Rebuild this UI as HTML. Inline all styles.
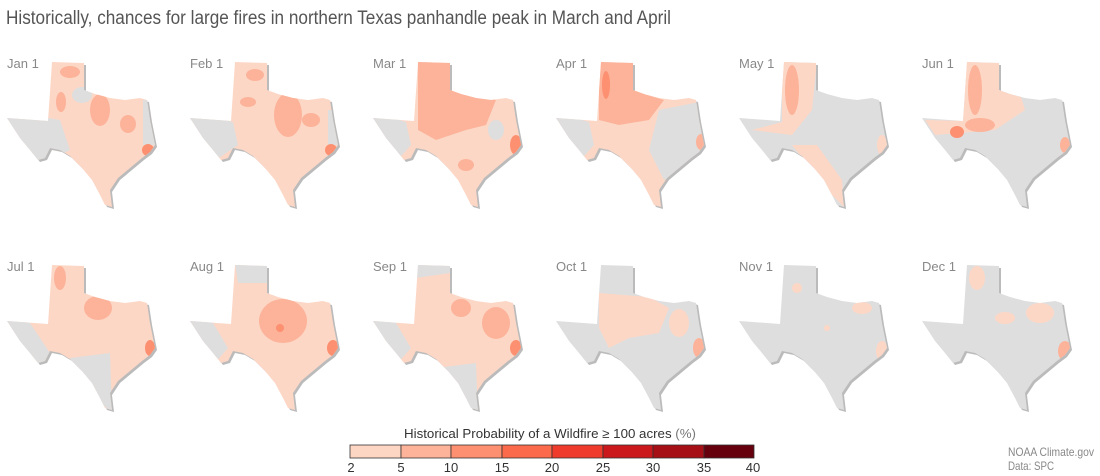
<!DOCTYPE html>
<html><head><meta charset="utf-8"><style>body{margin:0;background:#fff}svg{display:block}</style></head><body>
<svg width="1100" height="476" viewBox="0 0 1100 476" xmlns="http://www.w3.org/2000/svg" font-family="Liberation Sans, sans-serif">
<defs>
<path id="tx" d="M52,12 L84,13 L84,40 L95,44 L110,48 L125,50 L140,48 L147,50 L150,70 L153,85 L155,95 L150,102 L142,108 L130,118 L118,128 L110,140 L112,157 L105,155 L100,145 L92,130 L82,118 L70,106 L60,100 L50,98 L45,108 L38,110 L30,100 L20,88 L7,68 L48,71 Z"/>
<clipPath id="c"><use href="#tx"/></clipPath>
</defs>
<text x="6" y="24" font-size="19" fill="#555" textLength="665" lengthAdjust="spacingAndGlyphs">Historically, chances for large fires in northern Texas panhandle peak in March and April</text>

<g transform="translate(0,50)">
<use href="#tx" fill="#bbb" transform="translate(2,2)"/>
<g clip-path="url(#c)"><rect width="170" height="170" fill="#fdd7c6"/>
<path d="M0,60 L60,70 L70,100 L40,115 L0,100Z" fill="#dedede"/><rect x="143" y="50" width="20" height="45" fill="#dedede"/><ellipse cx="82" cy="45" rx="10" ry="8" fill="#dedede"/>
<ellipse cx="70" cy="22" rx="10" ry="6" fill="#fcb39a"/><ellipse cx="61" cy="52" rx="5" ry="10" fill="#fcb39a"/><ellipse cx="100" cy="60" rx="10" ry="16" fill="#fcb39a"/><ellipse cx="128" cy="74" rx="8" ry="9" fill="#fcb39a"/><ellipse cx="148" cy="100" rx="6" ry="6" fill="#fc9070"/></g>
<text x="7" y="18" font-size="13" fill="#888">Jan 1</text></g>

<g transform="translate(183,50)">
<use href="#tx" fill="#bbb" transform="translate(2,2)"/>
<g clip-path="url(#c)"><rect width="170" height="170" fill="#fdd7c6"/>
<path d="M0,60 L50,72 L55,95 L30,112 L0,100Z" fill="#dedede"/><rect x="145" y="60" width="20" height="35" fill="#dedede"/>
<ellipse cx="72" cy="25" rx="9" ry="6" fill="#fcb39a"/><ellipse cx="65" cy="52" rx="8" ry="5" fill="#fcb39a"/><ellipse cx="105" cy="65" rx="14" ry="22" fill="#fcb39a"/><ellipse cx="128" cy="70" rx="9" ry="7" fill="#fcb39a"/><ellipse cx="148" cy="100" rx="6" ry="6" fill="#fc9070"/></g>
<text x="7" y="18" font-size="13" fill="#888">Feb 1</text></g>

<g transform="translate(366,50)">
<use href="#tx" fill="#bbb" transform="translate(2,2)"/>
<g clip-path="url(#c)"><rect width="170" height="170" fill="#fdd7c6"/>
<path d="M0,60 L40,72 L45,95 L30,112 L0,100Z" fill="#dedede"/><ellipse cx="130" cy="80" rx="8" ry="10" fill="#dedede"/>
<path d="M52,10 L90,10 L100,44 L130,50 L120,75 L100,80 L70,90 L52,80Z" fill="#fcb39a"/><ellipse cx="100" cy="115" rx="8" ry="6" fill="#fcb39a"/><ellipse cx="150" cy="95" rx="6" ry="10" fill="#fc9070"/></g>
<text x="7" y="18" font-size="13" fill="#888">Mar 1</text></g>

<g transform="translate(549,50)">
<use href="#tx" fill="#bbb" transform="translate(2,2)"/>
<g clip-path="url(#c)"><rect width="170" height="170" fill="#fdd7c6"/>
<path d="M0,60 L40,72 L45,95 L30,112 L0,100Z" fill="#dedede"/><path d="M110,60 L160,50 L160,110 L115,130 L100,100Z" fill="#dedede"/>
<path d="M50,10 L88,10 L95,44 L115,50 L100,70 L70,75 L50,70Z" fill="#fcb39a"/><ellipse cx="57" cy="35" rx="4" ry="14" fill="#fc9070"/><ellipse cx="152" cy="92" rx="5" ry="8" fill="#fcb39a"/></g>
<text x="7" y="18" font-size="13" fill="#888">Apr 1</text></g>

<g transform="translate(732,50)">
<use href="#tx" fill="#bbb" transform="translate(2,2)"/>
<g clip-path="url(#c)"><rect width="170" height="170" fill="#dedede"/>
<path d="M50,10 L85,10 L80,60 L60,85 L20,80 L50,72Z" fill="#fdd7c6"/><ellipse cx="60" cy="40" rx="7" ry="25" fill="#fcb39a"/><path d="M60,95 L85,95 L110,130 L112,157 L95,140Z" fill="#fdd7c6"/><ellipse cx="150" cy="95" rx="5" ry="10" fill="#fdd7c6"/></g>
<text x="7" y="18" font-size="13" fill="#888">May 1</text></g>

<g transform="translate(915,50)">
<use href="#tx" fill="#bbb" transform="translate(2,2)"/>
<g clip-path="url(#c)"><rect width="170" height="170" fill="#dedede"/>
<path d="M50,10 L95,10 L110,60 L80,80 L20,85 L10,70 L48,71Z" fill="#fdd7c6"/><ellipse cx="60" cy="40" rx="7" ry="25" fill="#fcb39a"/><ellipse cx="65" cy="75" rx="15" ry="7" fill="#fcb39a"/><ellipse cx="42" cy="82" rx="7" ry="6" fill="#fc9070"/><ellipse cx="150" cy="95" rx="5" ry="8" fill="#fcb39a"/></g>
<text x="7" y="18" font-size="13" fill="#888">Jun 1</text></g>

<g transform="translate(0,253)">
<use href="#tx" fill="#bbb" transform="translate(2,2)"/>
<g clip-path="url(#c)"><rect width="170" height="170" fill="#fdd7c6"/>
<path d="M0,60 L30,70 L50,100 L40,115 L0,100Z" fill="#dedede"/><path d="M70,105 L110,100 L112,160 L90,140Z" fill="#dedede"/>
<ellipse cx="60" cy="25" rx="6" ry="12" fill="#fcb39a"/><ellipse cx="98" cy="55" rx="14" ry="12" fill="#fcb39a"/><ellipse cx="150" cy="95" rx="5" ry="8" fill="#fc9070"/></g>
<text x="7" y="18" font-size="13" fill="#888">Jul 1</text></g>

<g transform="translate(183,253)">
<use href="#tx" fill="#bbb" transform="translate(2,2)"/>
<g clip-path="url(#c)"><rect width="170" height="170" fill="#fdd7c6"/>
<path d="M0,60 L30,70 L45,95 L30,112 L0,100Z" fill="#dedede"/><path d="M52,10 L84,10 L84,30 L55,30Z" fill="#dedede"/>
<ellipse cx="100" cy="68" rx="24" ry="22" fill="#fcb39a"/><ellipse cx="97" cy="75" rx="4" ry="4" fill="#fc9070"/><ellipse cx="150" cy="95" rx="6" ry="8" fill="#fc9070"/></g>
<text x="7" y="18" font-size="13" fill="#888">Aug 1</text></g>

<g transform="translate(366,253)">
<use href="#tx" fill="#bbb" transform="translate(2,2)"/>
<g clip-path="url(#c)"><rect width="170" height="170" fill="#fdd7c6"/>
<path d="M0,60 L30,70 L45,95 L30,112 L0,100Z" fill="#dedede"/><path d="M50,10 L84,10 L84,20 L50,25Z" fill="#dedede"/><path d="M70,115 L110,110 L112,160 L95,150Z" fill="#dedede"/>
<ellipse cx="95" cy="55" rx="10" ry="9" fill="#fcb39a"/><ellipse cx="130" cy="70" rx="14" ry="16" fill="#fcb39a"/><ellipse cx="150" cy="95" rx="6" ry="8" fill="#fc9070"/></g>
<text x="7" y="18" font-size="13" fill="#888">Sep 1</text></g>

<g transform="translate(549,253)">
<use href="#tx" fill="#bbb" transform="translate(2,2)"/>
<g clip-path="url(#c)"><rect width="170" height="170" fill="#dedede"/>
<path d="M50,40 L100,44 L120,55 L110,80 L80,85 L60,95 L50,75Z" fill="#fdd7c6"/><ellipse cx="130" cy="70" rx="10" ry="14" fill="#fdd7c6"/><ellipse cx="150" cy="95" rx="6" ry="10" fill="#fcb39a"/></g>
<text x="7" y="18" font-size="13" fill="#888">Oct 1</text></g>

<g transform="translate(732,253)">
<use href="#tx" fill="#bbb" transform="translate(2,2)"/>
<g clip-path="url(#c)"><rect width="170" height="170" fill="#dedede"/>
<ellipse cx="65" cy="35" rx="5" ry="5" fill="#fdd7c6"/><ellipse cx="130" cy="55" rx="10" ry="6" fill="#fdd7c6"/><ellipse cx="150" cy="98" rx="6" ry="10" fill="#fdd7c6"/><ellipse cx="95" cy="75" rx="3" ry="3" fill="#fdd7c6"/></g>
<text x="7" y="18" font-size="13" fill="#888">Nov 1</text></g>

<g transform="translate(915,253)">
<use href="#tx" fill="#bbb" transform="translate(2,2)"/>
<g clip-path="url(#c)"><rect width="170" height="170" fill="#dedede"/>
<ellipse cx="62" cy="25" rx="8" ry="12" fill="#fdd7c6"/><ellipse cx="125" cy="60" rx="14" ry="10" fill="#fdd7c6"/><ellipse cx="150" cy="98" rx="7" ry="10" fill="#fcb39a"/><ellipse cx="90" cy="65" rx="10" ry="6" fill="#fdd7c6"/></g>
<text x="7" y="18" font-size="13" fill="#888">Dec 1</text></g>

<text x="550" y="438" font-size="13" fill="#333" text-anchor="middle" textLength="292" lengthAdjust="spacingAndGlyphs">Historical Probability of a Wildfire ≥ 100 acres <tspan fill="#777">(%)</tspan></text>
<g stroke="#333" stroke-width="0.8">
<rect x="350" y="445" width="51" height="13" fill="#fdd5c3"/><rect x="401" y="445" width="50" height="13" fill="#fcb39a"/><rect x="451" y="445" width="51" height="13" fill="#fc9070"/><rect x="502" y="445" width="50" height="13" fill="#fb6a4a"/><rect x="552" y="445" width="51" height="13" fill="#ef3b2c"/><rect x="603" y="445" width="50" height="13" fill="#cb181d"/><rect x="653" y="445" width="51" height="13" fill="#a50f15"/><rect x="704" y="445" width="50" height="13" fill="#67000d"/>
</g>
<g font-size="13" fill="#333" text-anchor="middle">
<text x="351" y="472">2</text><text x="401" y="472">5</text><text x="451" y="472">10</text><text x="502" y="472">15</text><text x="552" y="472">20</text><text x="603" y="472">25</text><text x="653" y="472">30</text><text x="704" y="472">35</text><text x="753" y="472">40</text>
</g>
<text x="1008" y="456" font-size="12" fill="#888" textLength="86" lengthAdjust="spacingAndGlyphs">NOAA Climate.gov</text>
<text x="1008" y="470" font-size="12" fill="#888" textLength="46" lengthAdjust="spacingAndGlyphs">Data: SPC</text>
</svg>
</body></html>
